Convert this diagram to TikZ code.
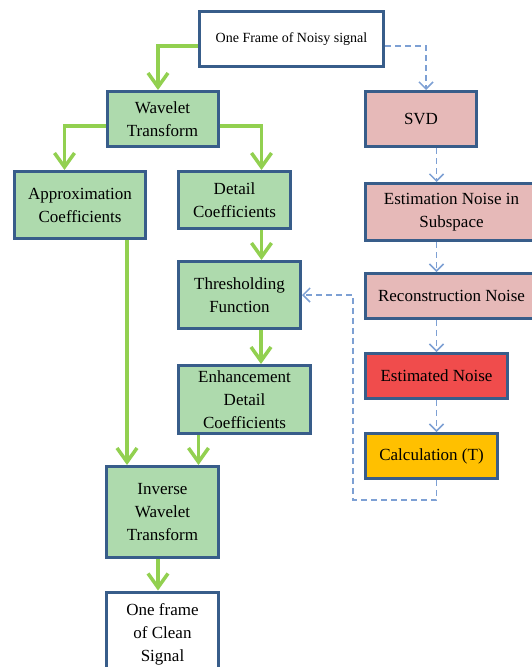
\documentclass[tikz,border=0pt]{standalone}
\usepackage{fontspec}
\setmainfont{Liberation Serif}
\usepackage{tikz}
\usetikzlibrary{arrows.meta, positioning}

\definecolor{boxborder}{RGB}{56,93,138}
\definecolor{boxgreen}{RGB}{174,218,173}
\definecolor{boxpink}{RGB}{230,185,184}
\definecolor{boxred}{RGB}{240,76,76}
\definecolor{boxorange}{RGB}{255,192,0}
\definecolor{arrowgreen}{RGB}{146,208,80}
\definecolor{arrowblue}{RGB}{125,160,212}

\begin{document}
\begin{tikzpicture}[
				x=1pt, y=-1pt,
				every node/.style={draw=boxborder, line width=3pt, align=center, inner sep=0pt,
					font=\fontsize{17}{23}\selectfont},
				greenbox/.style={fill=boxgreen},
				pinkbox/.style={fill=boxpink},
				flow/.style={draw=arrowgreen, line width=3.5pt, -{Straight Barb[length=14pt,width=20pt]}},
				feed/.style={draw=arrowblue, line width=1.5pt, dash pattern=on 6pt off 4pt,
					-{Straight Barb[length=7pt,width=14pt]}}]

			\useasboundingbox (0,0) rectangle (532,667);

			\node[fill=white, minimum width=184pt, minimum height=55pt,
				font=\fontsize{14}{18}\selectfont] (noisy_frame) at (291.5,39) {One Frame of Noisy signal};
			\node[greenbox, minimum width=111pt, minimum height=55pt] (wavelet) at (162.5,119) {Wavelet\\Transform};
			\node[pinkbox, minimum width=111pt, minimum height=55pt] (svd) at (421,119) {SVD};
			\node[greenbox, minimum width=131pt, minimum height=67pt] (approx_coeff) at (80,205) {Approximation\\Coefficients};
			\node[greenbox, minimum width=112pt, minimum height=57pt] (detail_coeff) at (234.5,200) {Detail\\Coefficients};
			\node[pinkbox, minimum width=172pt, minimum height=57pt] (estimation) at (451.5,212) {Estimation Noise in\\Subspace};
			\node[greenbox, minimum width=122pt, minimum height=67pt] (thresholding) at (239.5,295) {Thresholding\\Function};
			\node[pinkbox, minimum width=172pt, minimum height=45pt] (reconstruction) at (451.5,296) {Reconstruction Noise};
			\node[greenbox, minimum width=132pt, minimum height=68pt] (enhancement) at (244.5,399.5) {Enhancement\\Detail\\Coefficients};
			\node[fill=boxred, minimum width=142pt, minimum height=45pt] (est_noise) at (436.5,376) {Estimated Noise};
			\node[fill=boxorange, minimum width=132pt, minimum height=45pt] (calc_t) at (431.5,456) {Calculation (T)};
			\node[greenbox, minimum width=112pt, minimum height=91pt] (inverse) at (162.5,512) {Inverse\\Wavelet\\Transform};
			\node[fill=white, minimum width=112pt, minimum height=84pt] (clean_frame) at (162.5,634) {One frame\\of Clean\\Signal};

			\coordinate (loop_corner) at (353,500);

			\draw[flow] ([yshift=-7pt]noisy_frame.west) -| ([xshift=-4.5pt]wavelet.north);
			\draw[flow] ([yshift=-7pt]wavelet.west) -| ([xshift=-15.5pt]approx_coeff.north);
			\draw[flow] ([yshift=-7pt]wavelet.east) -| ([xshift=27pt]detail_coeff.north);
			\draw[flow] ([xshift=27pt]detail_coeff.south) -- ([xshift=27pt]detail_coeff.south |- thresholding.north);
			\draw[flow] ([xshift=21.5pt]thresholding.south) -- ([xshift=21.5pt]thresholding.south |- enhancement.north);
			\draw[flow] ([xshift=47pt]approx_coeff.south) -- ([xshift=47pt]approx_coeff.south |- inverse.north);
			\draw[flow] ([xshift=-46pt]enhancement.south) -- ([xshift=-46pt]enhancement.south |- inverse.north);
			\draw[flow] ([xshift=-4.5pt]inverse.south) -- ([xshift=-4.5pt]inverse.south |- clean_frame.north);

			\draw[feed] ([yshift=-7pt]noisy_frame.east) -| ([xshift=5pt]svd.north);
			\draw[feed] (svd.south -| est_noise.north) -- (estimation.north -| est_noise.north);
			\draw[feed] (estimation.south -| est_noise.north) -- (reconstruction.north -| est_noise.north);
			\draw[feed] (reconstruction.south -| est_noise.north) -- (est_noise.north);
			\draw[feed] (est_noise.south) -- (calc_t.north -| est_noise.north);
			\draw[feed] (calc_t.south -| est_noise.north) |- (loop_corner) |- (thresholding.east);

		\end{tikzpicture}
\end{document}
